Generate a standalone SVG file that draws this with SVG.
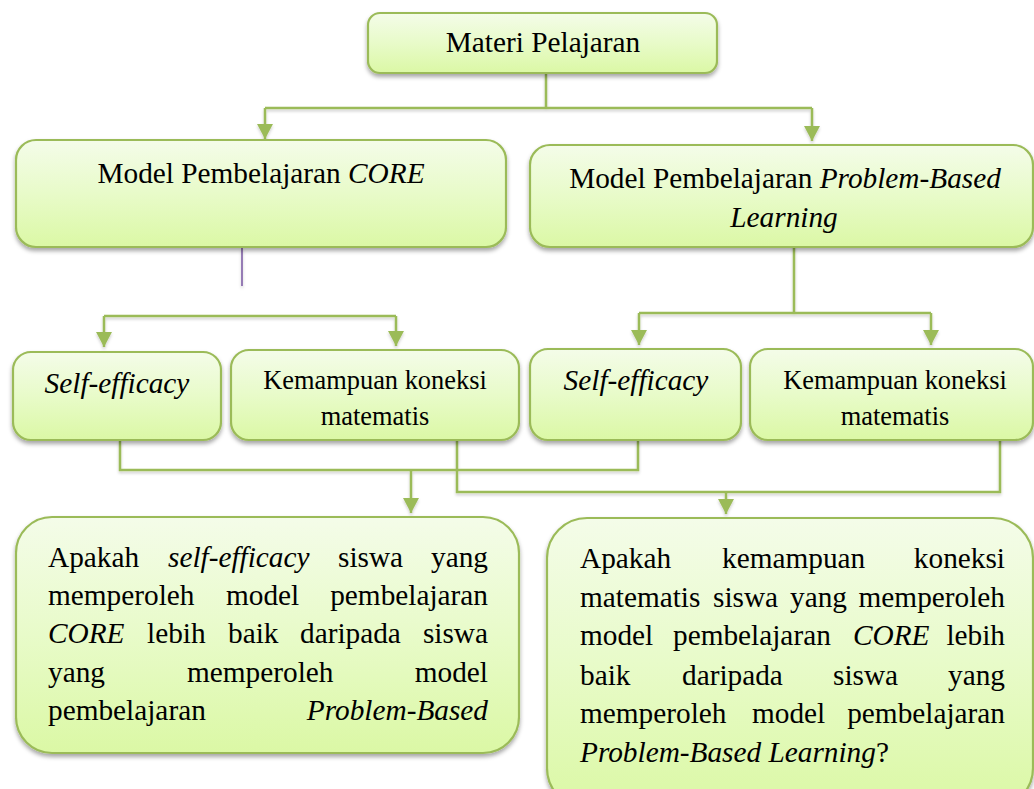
<svg xmlns="http://www.w3.org/2000/svg" width="1034" height="789" viewBox="0 0 1034 789">
<defs>
  <linearGradient id="g" x1="0" y1="0" x2="0" y2="1">
    <stop offset="0" stop-color="#f4fce9"/>
    <stop offset="0.5" stop-color="#e8fbc9"/>
    <stop offset="1" stop-color="#dbf8a5"/>
  </linearGradient>
  <filter id="sh" x="-10%" y="-10%" width="120%" height="130%">
    <feDropShadow dx="0" dy="3" stdDeviation="2.2" flood-color="#000" flood-opacity="0.35"/>
  </filter>
  <filter id="lsh" x="-10%" y="-50%" width="120%" height="200%">
    <feDropShadow dx="0" dy="2" stdDeviation="1.5" flood-color="#000" flood-opacity="0.2"/>
  </filter>
  <marker id="ar" viewBox="0 0 15 16" refX="15" refY="8" markerWidth="15" markerHeight="16" markerUnits="userSpaceOnUse" orient="auto">
    <path d="M0,0 L15,8 L0,16 z" fill="#9bbb59"/>
  </marker>
  <style>
    .box{fill:url(#g);stroke:#9bbb59;stroke-width:2.2;filter:url(#sh)}
    .c{fill:none;stroke:#9bbb59;stroke-width:2.5}
    text{font-family:"Liberation Serif","Times New Roman",serif;fill:#000}
    .t{font-size:29.3px}
    .s{font-size:26.4px}
    .i{font-style:italic}
  </style>
</defs>

<g id="connectors" filter="url(#lsh)">
  <path class="c" d="M546,74 V108"/>
  <path class="c" d="M265,108 H812"/>
  <path class="c" d="M265,108 V139" marker-end="url(#ar)"/>
  <path class="c" d="M812,108 V141" marker-end="url(#ar)"/>
  <path d="M242,248 V286" fill="none" stroke="#7f5fa6" stroke-width="1.6"/>
  <path class="c" d="M104,316 H396"/>
  <path class="c" d="M104,316 V347" marker-end="url(#ar)"/>
  <path class="c" d="M396,316 V346" marker-end="url(#ar)"/>
  <path class="c" d="M794,240 V313"/>
  <path class="c" d="M639,313 H931"/>
  <path class="c" d="M639,313 V345" marker-end="url(#ar)"/>
  <path class="c" d="M931,313 V345" marker-end="url(#ar)"/>
  <path class="c" d="M120,441 V470 H638 V441"/>
  <path class="c" d="M411,470 V513" marker-end="url(#ar)"/>
  <path class="c" d="M457,437 V492 H1000 V434"/>
  <path class="c" d="M726,492 V514" marker-end="url(#ar)"/>
</g>

<g id="materi">
  <rect class="box" x="368" y="13" width="349" height="60" rx="12"/>
  <text class="t" x="543" y="52" text-anchor="middle">Materi Pelajaran</text>
</g>

<g id="core">
  <rect class="box" x="16" y="140" width="490" height="107" rx="20"/>
  <text class="t" x="261" y="183" text-anchor="middle">Model Pembelajaran <tspan class="i">CORE</tspan></text>
</g>

<g id="pbl">
  <rect class="box" x="530" y="145" width="503" height="102" rx="20"/>
  <text class="t" x="785" y="188" text-anchor="middle">Model Pembelajaran <tspan class="i">Problem-Based</tspan></text>
  <text class="t i" x="784" y="227" text-anchor="middle">Learning</text>
</g>

<g id="self1">
  <rect class="box" x="13" y="352" width="208" height="88" rx="18"/>
  <text class="t i" x="117" y="393" text-anchor="middle">Self-efficacy</text>
</g>

<g id="kemampuan1">
  <rect class="box" x="231" y="350" width="288" height="90" rx="18"/>
  <text class="s" x="375" y="389" text-anchor="middle">Kemampuan koneksi</text>
  <text class="s" x="375" y="425" text-anchor="middle">matematis</text>
</g>

<g id="self2">
  <rect class="box" x="530" y="349" width="211" height="91" rx="18"/>
  <text class="t i" x="636" y="390" text-anchor="middle">Self-efficacy</text>
</g>

<g id="kemampuan2">
  <rect class="box" x="750" y="349" width="283" height="91" rx="18"/>
  <text class="s" x="895" y="389" text-anchor="middle">Kemampuan koneksi</text>
  <text class="s" x="895" y="425" text-anchor="middle">matematis</text>
</g>

<g id="question1">
  <rect class="box" x="16" y="517" width="503" height="236" rx="36"/>
  <text class="t" y="567"><tspan x="48">Apakah</tspan><tspan x="168" class="i">self-efficacy</tspan><tspan x="338">siswa</tspan></text>
  <text class="t" x="488" y="567" text-anchor="end">yang</text>
  <text class="t" y="605"><tspan x="48">memperoleh</tspan><tspan x="226">model</tspan></text>
  <text class="t" x="488" y="605" text-anchor="end">pembelajaran</text>
  <text class="t" y="643"><tspan x="48" class="i">CORE</tspan><tspan x="147">lebih</tspan><tspan x="228">baik</tspan><tspan x="300">daripada</tspan></text>
  <text class="t" x="488" y="643" text-anchor="end">siswa</text>
  <text class="t" y="682"><tspan x="48">yang</tspan><tspan x="187">memperoleh</tspan></text>
  <text class="t" x="488" y="682" text-anchor="end">model</text>
  <text class="t" x="48" y="720">pembelajaran</text>
  <text class="t i" x="488" y="720" text-anchor="end">Problem-Based</text>
</g>

<g id="question2">
  <rect class="box" x="547" y="518" width="486" height="290" rx="40"/>
  <text class="t" y="568"><tspan x="580">Apakah</tspan><tspan x="722">kemampuan</tspan></text>
  <text class="t" x="1005" y="568" text-anchor="end">koneksi</text>
  <text class="t" y="607"><tspan x="580">matematis</tspan><tspan x="713">siswa</tspan><tspan x="790">yang</tspan></text>
  <text class="t" x="1005" y="607" text-anchor="end">memperoleh</text>
  <text class="t" y="645"><tspan x="580">model</tspan><tspan x="673">pembelajaran</tspan><tspan x="853" class="i">CORE</tspan></text>
  <text class="t" x="1005" y="645" text-anchor="end">lebih</text>
  <text class="t" y="685"><tspan x="580">baik</tspan><tspan x="682">daripada</tspan><tspan x="833">siswa</tspan></text>
  <text class="t" x="1005" y="685" text-anchor="end">yang</text>
  <text class="t" y="723"><tspan x="580">memperoleh</tspan><tspan x="752">model</tspan></text>
  <text class="t" x="1005" y="723" text-anchor="end">pembelajaran</text>
  <text class="t" x="580" y="762"><tspan class="i">Problem-Based Learning</tspan>?</text>
</g>
</svg>
